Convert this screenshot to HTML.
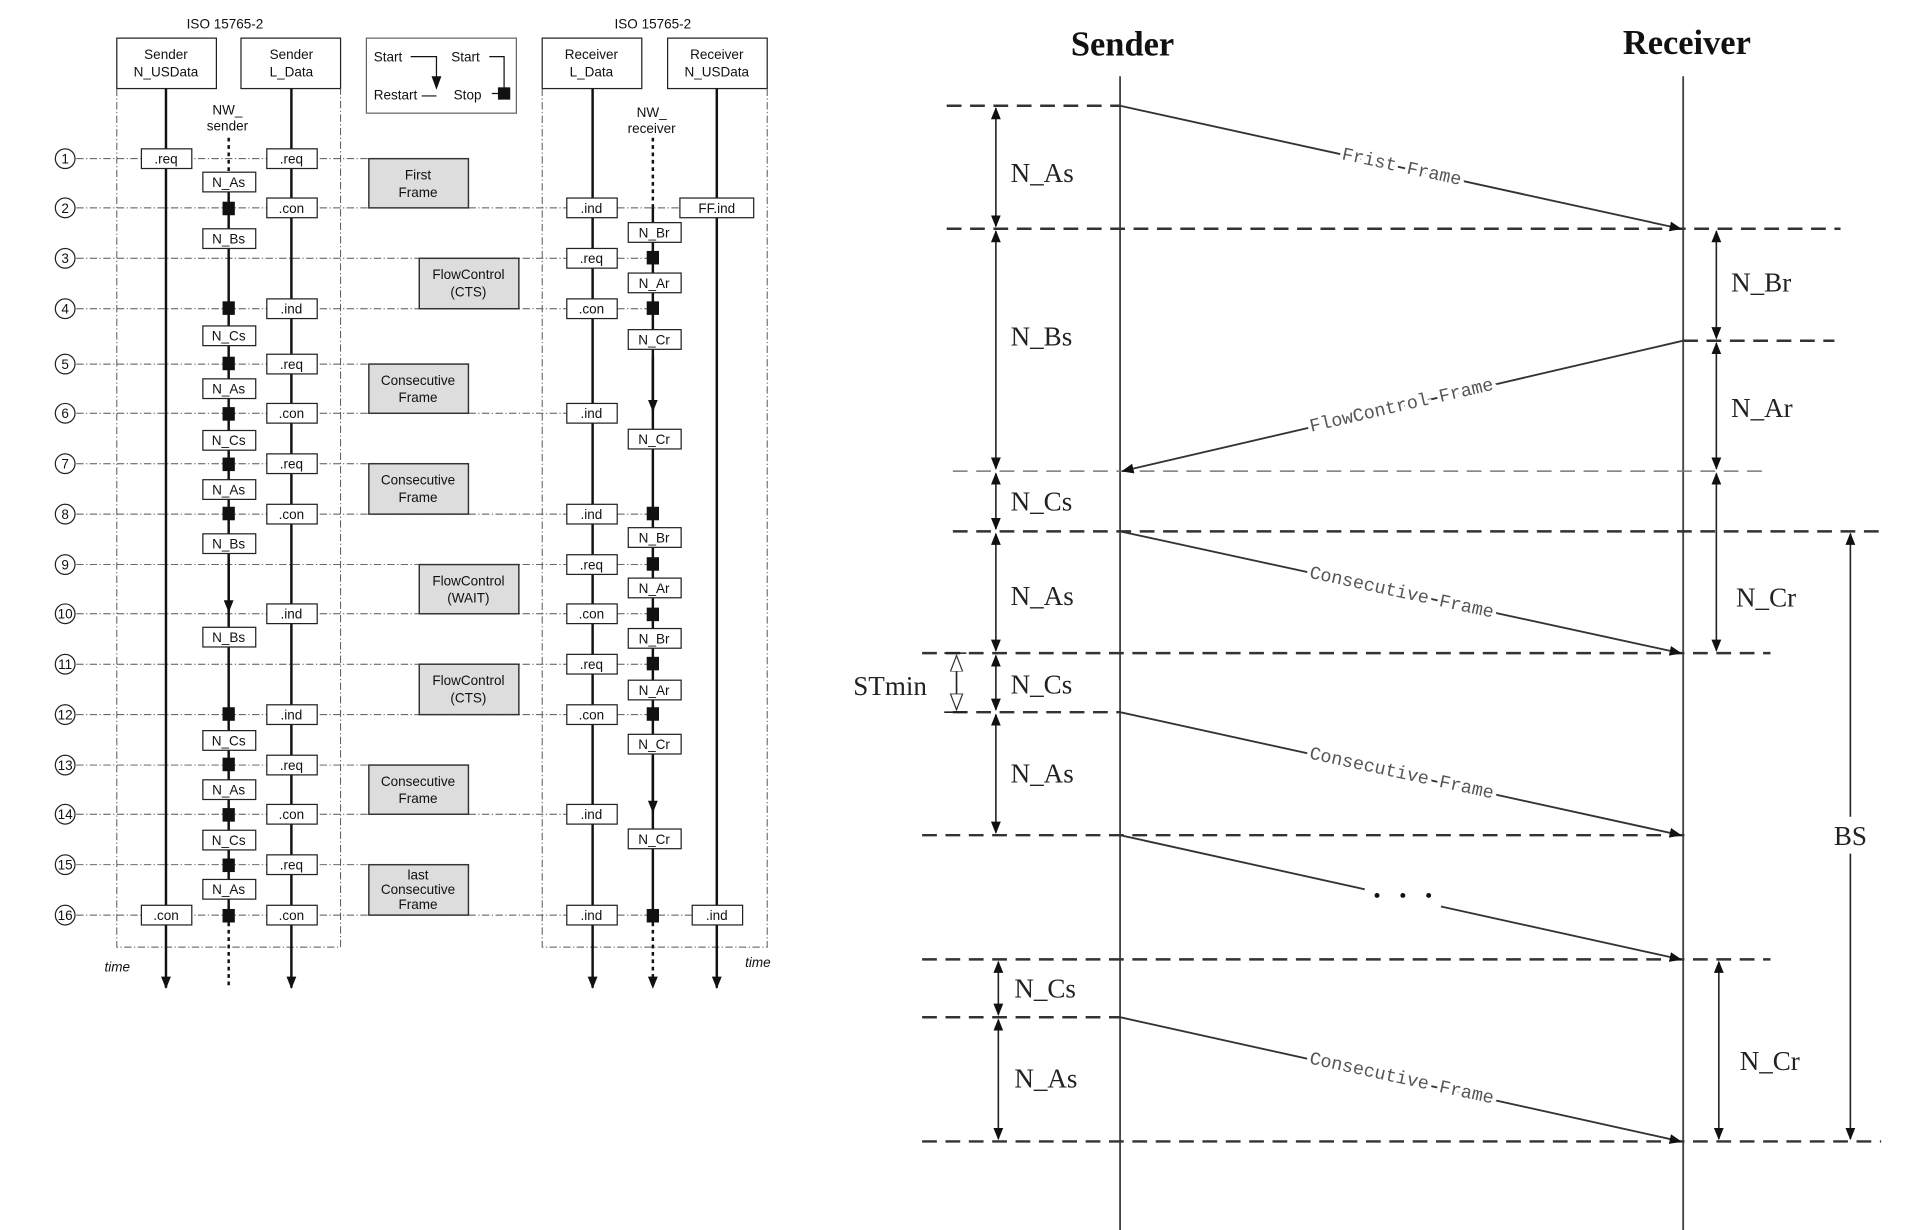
<!DOCTYPE html>
<html><head><meta charset="utf-8"><style>
html,body{margin:0;padding:0;background:#fff;}
svg{display:block;}
.s{font-family:"Liberation Sans",sans-serif;font-size:11px;fill:#111;}
.b{fill:#fff;stroke:#222;stroke-width:1;}
.g{fill:#ddd;stroke:#333;stroke-width:1.2;}
.dd{stroke:#555;stroke-width:0.8;stroke-dasharray:6 2 1 2;fill:none;}
.r{font-family:"Liberation Serif",serif;font-size:22px;fill:#222;}
.m{font-family:"Liberation Mono",monospace;font-size:15px;fill:#555;stroke:#fff;stroke-width:6px;paint-order:stroke;}
.hd{stroke:#333;stroke-width:2;stroke-dasharray:12 7;}
</style></head><body>
<svg width="1918" height="1230" viewBox="0 0 1560 1000" preserveAspectRatio="none" xmlns="http://www.w3.org/2000/svg">
<defs>
<marker id="a" markerWidth="10" markerHeight="10" refX="9" refY="5" orient="auto" markerUnits="userSpaceOnUse"><path d="M0,1 L10,5 L0,9z" fill="#111"/></marker>
<marker id="as" markerWidth="10" markerHeight="10" refX="9" refY="5" orient="auto-start-reverse" markerUnits="userSpaceOnUse"><path d="M0,1 L10,5 L0,9z" fill="#111"/></marker>
<marker id="ah" markerWidth="14" markerHeight="12" refX="13" refY="6" orient="auto-start-reverse" markerUnits="userSpaceOnUse"><path d="M0,1 L13,6 L0,11z" fill="#fff" stroke="#333"/></marker>
</defs>
<!-- LEFT DIAGRAM -->
<text class="s" x="183" y="23" text-anchor="middle">ISO 15765-2</text>
<text class="s" x="531" y="23" text-anchor="middle">ISO 15765-2</text>
<g class="b"><rect x="95" y="31" width="81" height="41"/><rect x="196" y="31" width="81" height="41"/><rect x="298" y="31" width="122" height="61" stroke="#666"/><rect x="441" y="31" width="81" height="41"/><rect x="543" y="31" width="81" height="41"/></g>
<g class="s" text-anchor="middle">
<text x="135" y="48">Sender</text><text x="135" y="62">N_USData</text>
<text x="237" y="48">Sender</text><text x="237" y="62">L_Data</text>
<text x="481" y="48">Receiver</text><text x="481" y="62">L_Data</text>
<text x="583" y="48">Receiver</text><text x="583" y="62">N_USData</text>
<text x="185" y="93">NW_</text><text x="185" y="106">sender</text>
<text x="530" y="95">NW_</text><text x="530" y="108">receiver</text>
</g>
<g class="s"><text x="304" y="50">Start</text><text x="367" y="50">Start</text><text x="304" y="81">Restart</text><text x="369" y="81">Stop</text></g>
<path d="M334,46 H355 V70 M343,78 H355 M398,46 H410 V76 M400,76 H410" stroke="#111" fill="none"/>
<path d="M351,62 L355,73 L359,62z" fill="#111"/><rect x="405" y="71" width="10" height="10" fill="#111"/>
<!-- frame dashed verticals -->
<path class="dd" d="M95,72 V770 H277 V72 M441,72 V770 H624 V72"/>
<!-- row lines -->
<g class="dd">
<path d="M62,129 H300"/><path d="M62,169 H553"/><path d="M62,210 H531"/><path d="M62,251 H531"/>
<path d="M62,296 H300"/><path d="M62,336 H482"/><path d="M62,377 H300"/><path d="M62,418 H531"/>
<path d="M62,459 H531"/><path d="M62,499 H531"/><path d="M62,540 H531"/><path d="M62,581 H531"/>
<path d="M62,622 H300"/><path d="M62,662 H482"/><path d="M62,703 H300"/><path d="M62,744 H583"/>
</g>
<!-- circles -->
<g fill="#fff" stroke="#222"><circle cx="53" cy="129" r="8"/><circle cx="53" cy="169" r="8"/><circle cx="53" cy="210" r="8"/><circle cx="53" cy="251" r="8"/><circle cx="53" cy="296" r="8"/><circle cx="53" cy="336" r="8"/><circle cx="53" cy="377" r="8"/><circle cx="53" cy="418" r="8"/><circle cx="53" cy="459" r="8"/><circle cx="53" cy="499" r="8"/><circle cx="53" cy="540" r="8"/><circle cx="53" cy="581" r="8"/><circle cx="53" cy="622" r="8"/><circle cx="53" cy="662" r="8"/><circle cx="53" cy="703" r="8"/><circle cx="53" cy="744" r="8"/></g>
<g class="s" text-anchor="middle" font-size="10">
<text x="53" y="133">1</text><text x="53" y="173">2</text><text x="53" y="214">3</text><text x="53" y="255">4</text><text x="53" y="300">5</text><text x="53" y="340">6</text><text x="53" y="381">7</text><text x="53" y="422">8</text><text x="53" y="463">9</text><text x="53" y="503">10</text><text x="53" y="544">11</text><text x="53" y="585">12</text><text x="53" y="626">13</text><text x="53" y="666">14</text><text x="53" y="707">15</text><text x="53" y="748">16</text>
</g>
<!-- vertical lifelines -->
<g stroke="#111" stroke-width="2" fill="none">
<path d="M135,72 V803" marker-end="url(#a)"/>
<path d="M237,72 V803" marker-end="url(#a)"/>
<path d="M482,72 V803" marker-end="url(#a)"/>
<path d="M583,72 V803" marker-end="url(#a)"/>
<path d="M186,141 V744"/>
<path d="M531,169 V744"/>
<path d="M186,112 V141 M186,744 V803 M531,112 V169 M531,744 V803" stroke-dasharray="3 3" marker-end="url(#a)"/>
<path d="M531,290 V334" marker-end="url(#a)"/><path d="M186,455 V497" marker-end="url(#a)"/><path d="M531,615 V660" marker-end="url(#a)"/>
</g>
<!-- squares -->
<g fill="#111">
<rect x="181" y="164" width="10" height="11"/><rect x="181" y="245" width="10" height="11"/><rect x="181" y="290" width="10" height="11"/><rect x="181" y="331" width="10" height="11"/><rect x="181" y="372" width="10" height="11"/><rect x="181" y="412" width="10" height="11"/><rect x="181" y="575" width="10" height="11"/><rect x="181" y="616" width="10" height="11"/><rect x="181" y="657" width="10" height="11"/><rect x="181" y="698" width="10" height="11"/><rect x="181" y="739" width="10" height="11"/>
<rect x="526" y="204" width="10" height="11"/><rect x="526" y="245" width="10" height="11"/><rect x="526" y="412" width="10" height="11"/><rect x="526" y="453" width="10" height="11"/><rect x="526" y="494" width="10" height="11"/><rect x="526" y="534" width="10" height="11"/><rect x="526" y="575" width="10" height="11"/><rect x="526" y="739" width="10" height="11"/>
</g>
<!-- small boxes -->
<g class="b">
<rect x="115" y="121" width="41" height="16"/><rect x="217" y="121" width="41" height="16"/>
<rect x="165" y="140" width="43" height="16"/><rect x="217" y="161" width="41" height="16"/><rect x="461" y="161" width="41" height="16"/><rect x="553" y="161" width="60" height="16"/>
<rect x="165" y="186" width="43" height="16"/><rect x="511" y="181" width="43" height="16"/>
<rect x="461" y="202" width="41" height="16"/><rect x="511" y="222" width="43" height="16"/>
<rect x="217" y="243" width="41" height="16"/><rect x="461" y="243" width="41" height="16"/>
<rect x="165" y="265" width="43" height="16"/><rect x="511" y="268" width="43" height="16"/>
<rect x="217" y="288" width="41" height="16"/><rect x="165" y="308" width="43" height="16"/>
<rect x="217" y="328" width="41" height="16"/><rect x="461" y="328" width="41" height="16"/>
<rect x="165" y="350" width="43" height="16"/><rect x="511" y="349" width="43" height="16"/>
<rect x="217" y="369" width="41" height="16"/><rect x="165" y="390" width="43" height="16"/>
<rect x="217" y="410" width="41" height="16"/><rect x="461" y="410" width="41" height="16"/>
<rect x="165" y="434" width="43" height="16"/><rect x="511" y="429" width="43" height="16"/>
<rect x="461" y="451" width="41" height="16"/><rect x="511" y="470" width="43" height="16"/>
<rect x="217" y="491" width="41" height="16"/><rect x="461" y="491" width="41" height="16"/>
<rect x="165" y="510" width="43" height="16"/><rect x="511" y="511" width="43" height="16"/>
<rect x="461" y="532" width="41" height="16"/><rect x="511" y="553" width="43" height="16"/>
<rect x="217" y="573" width="41" height="16"/><rect x="461" y="573" width="41" height="16"/>
<rect x="165" y="594" width="43" height="16"/><rect x="511" y="597" width="43" height="16"/>
<rect x="217" y="614" width="41" height="16"/><rect x="165" y="634" width="43" height="16"/>
<rect x="217" y="654" width="41" height="16"/><rect x="461" y="654" width="41" height="16"/>
<rect x="165" y="675" width="43" height="16"/><rect x="511" y="674" width="43" height="16"/>
<rect x="217" y="695" width="41" height="16"/><rect x="165" y="715" width="43" height="16"/>
<rect x="115" y="736" width="41" height="16"/><rect x="217" y="736" width="41" height="16"/><rect x="461" y="736" width="41" height="16"/><rect x="563" y="736" width="41" height="16"/>
</g>
<g class="s" text-anchor="middle">
<text x="135" y="133">.req</text><text x="237" y="133">.req</text>
<text x="186" y="152">N_As</text><text x="237" y="173">.con</text><text x="481" y="173">.ind</text><text x="583" y="173">FF.ind</text>
<text x="186" y="198">N_Bs</text><text x="532" y="193">N_Br</text>
<text x="481" y="214">.req</text><text x="532" y="234">N_Ar</text>
<text x="237" y="255">.ind</text><text x="481" y="255">.con</text>
<text x="186" y="277">N_Cs</text><text x="532" y="280">N_Cr</text>
<text x="237" y="300">.req</text><text x="186" y="320">N_As</text>
<text x="237" y="340">.con</text><text x="481" y="340">.ind</text>
<text x="186" y="362">N_Cs</text><text x="532" y="361">N_Cr</text>
<text x="237" y="381">.req</text><text x="186" y="402">N_As</text>
<text x="237" y="422">.con</text><text x="481" y="422">.ind</text>
<text x="186" y="446">N_Bs</text><text x="532" y="441">N_Br</text>
<text x="481" y="463">.req</text><text x="532" y="482">N_Ar</text>
<text x="237" y="503">.ind</text><text x="481" y="503">.con</text>
<text x="186" y="522">N_Bs</text><text x="532" y="523">N_Br</text>
<text x="481" y="544">.req</text><text x="532" y="565">N_Ar</text>
<text x="237" y="585">.ind</text><text x="481" y="585">.con</text>
<text x="186" y="606">N_Cs</text><text x="532" y="609">N_Cr</text>
<text x="237" y="626">.req</text><text x="186" y="646">N_As</text>
<text x="237" y="666">.con</text><text x="481" y="666">.ind</text>
<text x="186" y="687">N_Cs</text><text x="532" y="686">N_Cr</text>
<text x="237" y="707">.req</text><text x="186" y="727">N_As</text>
<text x="135" y="748">.con</text><text x="237" y="748">.con</text><text x="481" y="748">.ind</text><text x="583" y="748">.ind</text>
</g>
<!-- gray frame boxes -->
<g class="g">
<rect x="300" y="129" width="81" height="40"/><rect x="341" y="210" width="81" height="41"/>
<rect x="300" y="296" width="81" height="40"/><rect x="300" y="377" width="81" height="41"/>
<rect x="341" y="459" width="81" height="40"/><rect x="341" y="540" width="81" height="41"/>
<rect x="300" y="622" width="81" height="40"/><rect x="300" y="703" width="81" height="41"/>
</g>
<g class="s" text-anchor="middle">
<text x="340" y="146">First</text><text x="340" y="160">Frame</text>
<text x="381" y="227">FlowControl</text><text x="381" y="241">(CTS)</text>
<text x="340" y="313">Consecutive</text><text x="340" y="327">Frame</text>
<text x="340" y="394">Consecutive</text><text x="340" y="408">Frame</text>
<text x="381" y="476">FlowControl</text><text x="381" y="490">(WAIT)</text>
<text x="381" y="557">FlowControl</text><text x="381" y="571">(CTS)</text>
<text x="340" y="639">Consecutive</text><text x="340" y="653">Frame</text>
<text x="340" y="715">last</text><text x="340" y="727">Consecutive</text><text x="340" y="739">Frame</text>
</g>
<g class="s" font-style="italic" font-size="10"><text x="85" y="790">time</text><text x="606" y="786">time</text></g>

<!-- RIGHT DIAGRAM -->
<text x="913" y="45" text-anchor="middle" font-family="Liberation Serif,serif" font-weight="bold" font-size="28" fill="#111">Sender</text>
<text x="1372" y="44" text-anchor="middle" font-family="Liberation Serif,serif" font-weight="bold" font-size="28" fill="#111">Receiver</text>
<g stroke="#444" stroke-width="1.5"><path d="M911,62 V1005"/><path d="M1369,62 V1005"/></g>
<g class="hd">
<path d="M770,86 H911"/><path d="M770,186 H1497"/><path d="M1369,277 H1492"/>
<path d="M775,383 H1436" stroke-width="1.2" stroke="#777"/><path d="M775,432 H1534"/><path d="M750,531 H1440"/>
<path d="M775,579 H911"/><path d="M750,679 H1370"/><path d="M750,780 H1440"/><path d="M750,827 H911"/><path d="M750,928 H1530"/>
</g>
<!-- messages -->
<g stroke="#333" stroke-width="1.5" fill="none">
<path d="M911,86 L1367,186" marker-end="url(#a)"/>
<path d="M1369,277 L913,383" marker-end="url(#a)"/>
<path d="M911,432 L1367,531" marker-end="url(#a)"/>
<path d="M911,579 L1367,679" marker-end="url(#a)"/>
<path d="M911,679 L1110,723 M1172,737 L1367,780" marker-end="url(#a)"/>
<path d="M911,827 L1367,928" marker-end="url(#a)"/>
</g>
<text class="m" transform="translate(1140,136) rotate(12.3)" text-anchor="middle" dominant-baseline="middle">Frist Frame</text>
<text class="m" transform="translate(1140,330) rotate(-13)" text-anchor="middle" dominant-baseline="middle">FlowControl Frame</text>
<text class="m" transform="translate(1140,482) rotate(12.3)" text-anchor="middle" dominant-baseline="middle">Consecutive Frame</text>
<text class="m" transform="translate(1140,629) rotate(12.3)" text-anchor="middle" dominant-baseline="middle">Consecutive Frame</text>
<text class="m" transform="translate(1140,877) rotate(12.3)" text-anchor="middle" dominant-baseline="middle">Consecutive Frame</text>
<g fill="#111"><circle cx="1120" cy="728" r="2"/><circle cx="1141" cy="728" r="2"/><circle cx="1162" cy="728" r="2"/></g>
<!-- dimension arrows -->
<g stroke="#222" stroke-width="1.3" fill="none">
<path d="M810,88 V184" marker-start="url(#as)" marker-end="url(#as)"/>
<path d="M810,188 V381" marker-start="url(#as)" marker-end="url(#as)"/>
<path d="M810,385 V430" marker-start="url(#as)" marker-end="url(#as)"/>
<path d="M810,434 V529" marker-start="url(#as)" marker-end="url(#as)"/>
<path d="M810,533 V577" marker-start="url(#as)" marker-end="url(#as)"/>
<path d="M810,581 V677" marker-start="url(#as)" marker-end="url(#as)"/>
<path d="M812,782 V825" marker-start="url(#as)" marker-end="url(#as)"/>
<path d="M812,829 V926" marker-start="url(#as)" marker-end="url(#as)"/>
<path d="M1396,188 V275" marker-start="url(#as)" marker-end="url(#as)"/>
<path d="M1396,279 V381" marker-start="url(#as)" marker-end="url(#as)"/>
<path d="M1396,385 V529" marker-start="url(#as)" marker-end="url(#as)"/>
<path d="M1398,782 V926" marker-start="url(#as)" marker-end="url(#as)"/>
<path d="M1505,434 V664 M1505,694 V926" marker-end="url(#as)"/>
<path d="M1505,434 V440" marker-start="url(#as)"/>
<path d="M778,533 V577" marker-start="url(#ah)" marker-end="url(#ah)"/>
<path d="M768,531 H786 M768,579 H786" stroke-dasharray="none"/>
</g>
<g class="r">
<text x="822" y="148">N_As</text><text x="822" y="281">N_Bs</text><text x="822" y="415">N_Cs</text>
<text x="822" y="492">N_As</text><text x="822" y="564">N_Cs</text><text x="822" y="636">N_As</text>
<text x="825" y="811">N_Cs</text><text x="825" y="884">N_As</text>
<text x="1408" y="237">N_Br</text><text x="1408" y="339">N_Ar</text><text x="1412" y="493">N_Cr</text><text x="1415" y="870">N_Cr</text>
<text x="1505" y="687" text-anchor="middle">BS</text>
<text x="694" y="565">STmin</text>
</g>
</svg>
</body></html>
